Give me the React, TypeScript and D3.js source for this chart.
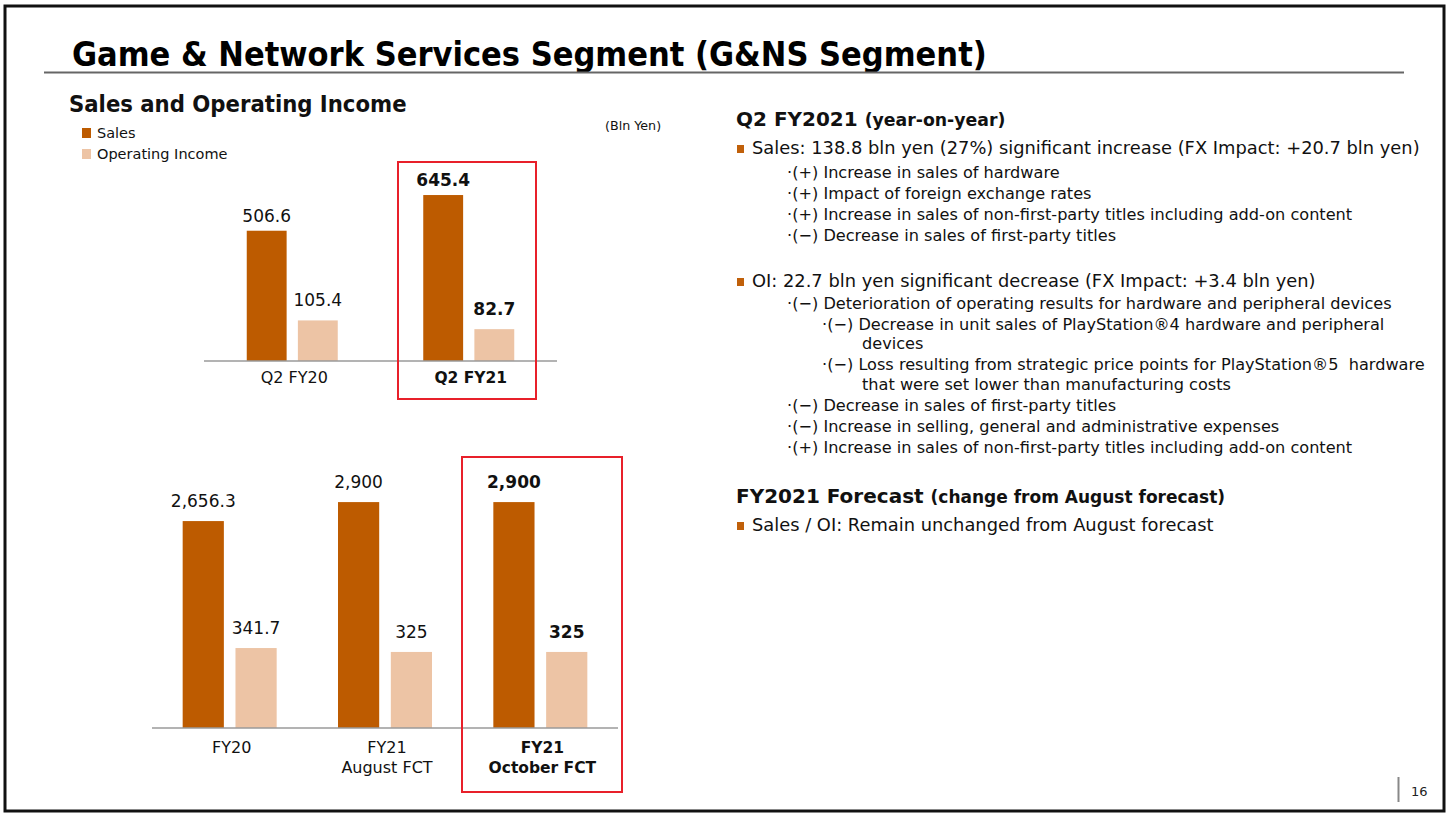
import React from "react";
import * as d3 from "d3";

const quarterCats = ["Q2 FY20", "Q2 FY21"];
const quarterSales = [506.6, 645.4];
const quarterOI = [105.4, 82.7];
const quarterSalesLabels = ["506.6", "645.4"];
const quarterOILabels = ["105.4", "82.7"];

const yearCats = ["FY20", "FY21|August FCT", "FY21|October FCT"];
const yearSales = [2656.3, 2900, 2900];
const yearOI = [341.7, 325, 325];
const yearSalesLabels = ["2,656.3", "2,900", "2,900"];
const yearOILabels = ["341.7", "325", "325"];

const seriesNames = ["Sales", "Operating Income"];

const SALES_COLOR = "#BD5B00";
const OI_COLOR = "#EDC4A5";
const BULLET = "#C0600A";
const RED = "#E8202A";

const COND = "'DejaVu Sans Condensed', 'DejaVu Sans', sans-serif";
const SANS = "'DejaVu Sans', sans-serif";

type PanelProps = {
  cats: string[];
  sales: number[];
  oi: number[];
  salesLabels: string[];
  oiLabels: string[];
  x0: number;
  x1: number;
  baseY: number;
  salesMax: number;
  salesTop: number;
  oiMax: number;
  oiTop: number;
  barSpan: number;
  highlight: number;
  catLabelY: number;
  salesLabelGap: number;
};

function Panel(p: PanelProps) {
  const x = d3.scaleBand<string>().domain(p.cats).range([p.x0, p.x1]).padding(0);
  const bw = x.bandwidth();
  const inner = d3
    .scaleBand<string>()
    .domain(seriesNames)
    .range([bw / 2 - p.barSpan / 2, bw / 2 + p.barSpan / 2])
    .paddingInner(0.22);
  const ys = d3.scaleLinear().domain([0, p.salesMax]).range([p.baseY, p.salesTop]);
  const yo = d3.scaleLinear().domain([0, p.oiMax]).range([p.baseY, p.oiTop]);
  return (
    <g>
      {p.cats.map((c, i) => {
        const gx = x(c)!;
        const bold = i === p.highlight;
        const sx = gx + inner("Sales")!;
        const ox = gx + inner("Operating Income")!;
        const lines = c.split("|");
        return (
          <g key={c}>
            <rect x={sx} y={ys(p.sales[i])} width={inner.bandwidth()} height={p.baseY - ys(p.sales[i])} fill={SALES_COLOR} />
            <rect x={ox} y={yo(p.oi[i])} width={inner.bandwidth()} height={p.baseY - yo(p.oi[i])} fill={OI_COLOR} />
            <text x={sx + inner.bandwidth() / 2} y={ys(p.sales[i]) - p.salesLabelGap} textAnchor="middle" fontFamily={SANS} fontSize={17} fontWeight={bold ? "bold" : "normal"} fill="#111">
              {p.salesLabels[i]}
            </text>
            <text x={ox + inner.bandwidth() / 2} y={yo(p.oi[i]) - 14} textAnchor="middle" fontFamily={SANS} fontSize={17} fontWeight={bold ? "bold" : "normal"} fill="#111">
              {p.oiLabels[i]}
            </text>
            {lines.map((l, k) => (
              <text key={k} x={gx + bw / 2 + 2} y={p.catLabelY + k * 20} textAnchor="middle" fontFamily={SANS} fontSize={bold ? 15.5 : 16} fontWeight={bold ? "bold" : "normal"} fill="#111">
                {l}
              </text>
            ))}
          </g>
        );
      })}
      <line x1={p.x0} x2={p.x1} y1={p.baseY} y2={p.baseY} stroke="#9a9a9a" strokeWidth={1.5} />
    </g>
  );
}

const subLines: { x: number; y: number; t: string }[] = [
  { x: 787, y: 178, t: "·(+) Increase in sales of hardware" },
  { x: 787, y: 199, t: "·(+) Impact of foreign exchange rates" },
  { x: 787, y: 220, t: "·(+) Increase in sales of non-first-party titles including add-on content" },
  { x: 787, y: 241, t: "·(−) Decrease in sales of first-party titles" },
  { x: 787, y: 309, t: "·(−) Deterioration of operating results for hardware and peripheral devices" },
  { x: 822, y: 330, t: "·(−) Decrease in unit sales of PlayStation®4 hardware and peripheral" },
  { x: 862, y: 349, t: "devices" },
  { x: 822, y: 370, t: "·(−) Loss resulting from strategic price points for PlayStation®5  hardware" },
  { x: 862, y: 390, t: "that were set lower than manufacturing costs" },
  { x: 787, y: 411, t: "·(−) Decrease in sales of first-party titles" },
  { x: 787, y: 432, t: "·(−) Increase in selling, general and administrative expenses" },
  { x: 787, y: 453, t: "·(+) Increase in sales of non-first-party titles including add-on content" },
];

export default function App() {
  return (
    <svg width={1447} height={817} style={{ position: "absolute", left: 0, top: 0, background: "#fff" }}>
      <rect x={0} y={0} width={1447} height={817} fill="#fff" />
      <rect x={5} y={6} width={1439} height={805} fill="none" stroke="#111" strokeWidth={3} />
      <text x={72} y={66} fontFamily={COND} fontSize={34} fontWeight="bold" fill="#000">
        Game &amp; Network Services Segment (G&amp;NS Segment)
      </text>
      <line x1={44} x2={1404} y1={72.5} y2={72.5} stroke="#666" strokeWidth={2} />

      <text x={69} y={112} fontFamily={COND} fontSize={23.6} fontWeight="bold" fill="#111">
        Sales and Operating Income
      </text>
      <rect x={82} y={128} width={9} height={10} fill={SALES_COLOR} />
      <text x={97} y={138} fontFamily={SANS} fontSize={14.5} fill="#111">{seriesNames[0]}</text>
      <rect x={82} y={149} width={9} height={10} fill={OI_COLOR} />
      <text x={97} y={159} fontFamily={SANS} fontSize={14.5} fill="#111">{seriesNames[1]}</text>
      <text x={605} y={130} fontFamily={SANS} fontSize={12.7} fill="#111">(Bln Yen)</text>

      <Panel
        cats={quarterCats}
        sales={quarterSales}
        oi={quarterOI}
        salesLabels={quarterSalesLabels}
        oiLabels={quarterOILabels}
        x0={204}
        x1={557}
        baseY={361}
        salesMax={700}
        salesTop={181}
        oiMax={200}
        oiTop={284}
        barSpan={91}
        highlight={1}
        catLabelY={383}
        salesLabelGap={9}
      />
      <rect x={398} y={162} width={138} height={237} fill="none" stroke={RED} strokeWidth={2} />

      <Panel
        cats={yearCats}
        sales={yearSales}
        oi={yearOI}
        salesLabels={yearSalesLabels}
        oiLabels={yearOILabels}
        x0={152}
        x1={618}
        baseY={728}
        salesMax={3000}
        salesTop={494.3}
        oiMax={400}
        oiTop={634.4}
        barSpan={94}
        highlight={2}
        catLabelY={753}
        salesLabelGap={14}
      />
      <rect x={462} y={457} width={160} height={335} fill="none" stroke={RED} strokeWidth={2} />

      <text x={736} y={126} fontFamily={SANS} fill="#111" fontWeight="bold">
        <tspan fontSize={20}>Q2 FY2021 </tspan>
        <tspan fontSize={17.3}>(year-on-year)</tspan>
      </text>
      <rect x={737} y={145} width={7} height={8} fill={BULLET} />
      <text x={752} y={154} fontFamily={SANS} fontSize={17.85} fill="#111">
        Sales: 138.8 bln yen (27%) significant increase (FX Impact: +20.7 bln yen)
      </text>
      <rect x={737} y={278} width={7} height={8} fill={BULLET} />
      <text x={752} y={287} fontFamily={SANS} fontSize={17.85} fill="#111">
        OI: 22.7 bln yen significant decrease (FX Impact: +3.4 bln yen)
      </text>
      {subLines.map((l, i) => (
        <text key={i} x={l.x} y={l.y} fontFamily={SANS} fontSize={16.15} fill="#111" style={{ whiteSpace: "pre" }}>
          {l.t}
        </text>
      ))}
      <text x={736} y={503} fontFamily={SANS} fill="#111" fontWeight="bold">
        <tspan fontSize={20}>FY2021 Forecast </tspan>
        <tspan fontSize={17}>(change from August forecast)</tspan>
      </text>
      <rect x={737} y={522} width={7} height={8} fill={BULLET} />
      <text x={752} y={531} fontFamily={SANS} fontSize={17.85} fill="#111">
        Sales / OI: Remain unchanged from August forecast
      </text>

      <line x1={1398.5} x2={1398.5} y1={777} y2={802} stroke="#888" strokeWidth={2} />
      <text x={1411} y={796} fontFamily={SANS} fontSize={13} fill="#222">16</text>
    </svg>
  );
}
